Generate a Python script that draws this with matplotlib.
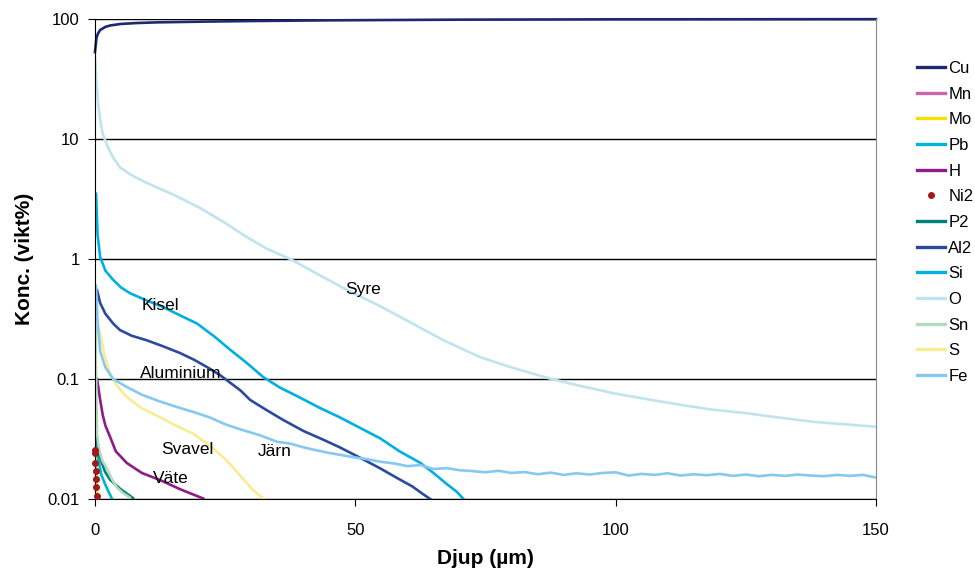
import matplotlib.pyplot as plt
from matplotlib.ticker import FixedLocator, FixedFormatter, NullLocator

plt.rcParams['font.family'] = ['Liberation Sans', 'DejaVu Sans']

# depth profiles, depth in um, concentration in wt%
cu_x = [0.0, 0.3, 0.6, 1.0, 2.0, 3.0, 5.0, 8.0, 12.0, 20.0, 30.0, 45.0, 70.0, 100.0, 150.0]
cu_y = [53.0, 70.0, 76.0, 81.0, 86.0, 88.5, 91.0, 92.6, 93.8, 95.0, 96.2, 97.5, 98.8, 99.4, 99.7]

mn_x = [0.1, 0.2, 0.3]
mn_y = [0.013, 0.011, 0.010]

mo_x = [0.2, 0.25, 0.3, 0.35]
mo_y = [0.022, 0.016, 0.012, 0.010]

pb_x = [0.2, 0.6, 1.2, 1.9, 2.6, 3.3]
pb_y = [0.040, 0.022, 0.016, 0.0135, 0.0115, 0.010]

h_x = [0.4, 0.7, 1.0, 1.5, 2.0, 2.9, 4.0, 6.1, 9.0, 12.5, 16.5, 20.8]
h_y = [0.10, 0.082, 0.067, 0.050, 0.041, 0.033, 0.025, 0.020, 0.0165, 0.0144, 0.012, 0.0101]

ni_x = [0.0, 0.05, 0.1, 0.15, 0.2, 0.25, 0.3]
ni_y = [0.0256, 0.0240, 0.0201, 0.0170, 0.0146, 0.0126, 0.0107]

p2_x = [0.1, 0.4, 1.0, 1.9, 2.9, 4.8, 6.0, 7.3]
p2_y = [0.046, 0.030, 0.022, 0.017, 0.0145, 0.0122, 0.0112, 0.0102]

al_x = [0.4, 1.0, 2.0, 3.5, 4.8, 7.0, 10.0, 13.0, 16.3, 19.0, 21.5, 24.0, 26.0, 28.0, 29.8,
        33.0, 36.0, 40.0, 44.0, 47.0, 51.0, 54.8, 58.0, 61.0, 63.0, 64.4]
al_y = [0.55, 0.43, 0.35, 0.29, 0.256, 0.23, 0.21, 0.188, 0.165, 0.145, 0.126, 0.108, 0.093,
        0.080, 0.067, 0.055, 0.046, 0.037, 0.031, 0.027, 0.022, 0.018, 0.015, 0.0127, 0.011, 0.010]

si_x = [0.2, 0.5, 1.0, 2.0, 3.5, 5.0, 6.7, 10.0, 13.0, 16.0, 19.6, 23.0, 26.0, 29.0, 32.3,
        35.5, 39.4, 43.0, 47.0, 51.0, 54.8, 58.5, 62.5, 65.0, 67.7, 69.5, 70.8]
si_y = [3.5, 1.6, 1.04, 0.80, 0.67, 0.58, 0.52, 0.45, 0.40, 0.345, 0.29, 0.225, 0.175, 0.138,
        0.104, 0.085, 0.070, 0.058, 0.048, 0.039, 0.032, 0.025, 0.020, 0.0165, 0.0132, 0.0115, 0.010]

o_x = [0.0, 0.3, 0.6, 1.0, 1.5, 2.5, 3.5, 4.8, 7.0, 10.0, 15.0, 20.2, 25.0, 29.2, 33.0, 37.5,
       43.0, 48.5, 55.0, 61.0, 67.0, 74.0, 80.0, 87.0, 93.0, 99.7, 106.0, 112.5, 118.0, 125.0,
       131.0, 138.0, 144.0, 150.0]
o_y = [50.0, 30.0, 20.0, 14.4, 11.0, 8.5, 7.0, 5.8, 5.0, 4.3, 3.45, 2.66, 2.0, 1.52, 1.22, 1.0,
       0.74, 0.55, 0.40, 0.29, 0.21, 0.152, 0.125, 0.102, 0.088, 0.076, 0.068, 0.061, 0.056,
       0.052, 0.048, 0.044, 0.042, 0.040]

sn_x = [0.1, 0.2, 0.4, 0.8, 1.4, 2.3, 3.2, 4.2, 5.4, 6.7]
sn_y = [0.40, 0.12, 0.035, 0.026, 0.021, 0.018, 0.0148, 0.0125, 0.0112, 0.0103]

s_x = [0.3, 0.6, 1.0, 1.8, 2.9, 4.2, 6.1, 9.0, 12.5, 15.5, 18.9, 22.0, 25.3, 28.0, 30.4, 32.5]
s_y = [0.30, 0.27, 0.24, 0.16, 0.112, 0.088, 0.071, 0.057, 0.048, 0.041, 0.035, 0.028, 0.021,
       0.0155, 0.0118, 0.010]

fe_x = [0.2, 0.5, 1.0, 2.0, 3.5, 6.1, 9.0, 12.5, 16.0, 19.0, 22.0, 25.0, 28.0, 31.7,
        35.0, 37.5, 40.0, 42.5, 45.0, 47.5, 50.0, 52.5, 55.0, 57.5, 60.0, 62.5, 65.0, 67.5,
        70.0, 72.5, 75.0, 77.5, 80.0, 82.5, 85.0, 87.5, 90.0, 92.5, 95.0, 97.5, 100.0, 102.5,
        105.0, 107.5, 110.0, 112.5, 115.0, 117.5, 120.0, 122.5, 125.0, 127.5, 130.0, 132.5,
        135.0, 137.5, 140.0, 142.5, 145.0, 147.5, 150.0]
fe_y = [0.60, 0.30, 0.17, 0.125, 0.10, 0.086, 0.074, 0.065, 0.058, 0.053, 0.048, 0.042, 0.038,
        0.034, 0.030, 0.029, 0.027, 0.0255, 0.0242, 0.0232, 0.0222, 0.0214, 0.0204, 0.0198,
        0.0188, 0.0192, 0.0178, 0.0181, 0.0174, 0.0171, 0.0167, 0.0172, 0.0165, 0.0168, 0.0161,
        0.0166, 0.0159, 0.0164, 0.0160, 0.0165, 0.0167, 0.0157, 0.0162, 0.0159, 0.0164, 0.0157,
        0.0161, 0.0158, 0.0162, 0.0156, 0.0160, 0.0155, 0.0159, 0.0156, 0.0160, 0.0157, 0.0155,
        0.0159, 0.0156, 0.0159, 0.0151]

series = [
    ('Cu', cu_x, cu_y, '#1f2a6b'),
    ('Mn', mn_x, mn_y, '#cc66b0'),
    ('Mo', mo_x, mo_y, '#f2e000'),
    ('Pb', pb_x, pb_y, '#00b4d8'),
    ('H', h_x, h_y, '#8e1b8a'),
    ('Ni2', ni_x, ni_y, '#a01a1a'),
    ('P2', p2_x, p2_y, '#00807a'),
    ('Al2', al_x, al_y, '#2b4a9e'),
    ('Si', si_x, si_y, '#00b0e0'),
    ('O', o_x, o_y, '#bfe4ee'),
    ('Sn', sn_x, sn_y, '#b4dcbc'),
    ('S', s_x, s_y, '#f8ec94'),
    ('Fe', fe_x, fe_y, '#86c8f0'),
]

x_ticks = [0, 50, 100, 150]
y_ticks = [0.01, 0.1, 1, 10, 100]
y_tick_labels = ['0.01', '0.1', '1', '10', '100']

fig = plt.figure(figsize=(9.75, 5.71), dpi=100)
ax = fig.add_axes([0.0974, 0.126, 0.8010, 0.8407])

for name, xs, ys, col in series:
    if name == 'Ni2':
        ax.plot(xs, ys, linestyle='none', marker='o', markersize=4, color=col, label=name,
                clip_on=False, zorder=3)
    else:
        ax.plot(xs, ys, color=col, lw=1.9, label=name, clip_on=(name != 'Cu'))

ax.set_yscale('log')
ax.set_xlim(0, 150)
ax.set_ylim(0.01, 100)

ax.yaxis.set_major_locator(FixedLocator(y_ticks))
ax.yaxis.set_major_formatter(FixedFormatter(y_tick_labels))
ax.yaxis.set_minor_locator(NullLocator())
ax.set_xticks(x_ticks)
ax.grid(axis='y', color='black', lw=1.0)
ax.set_axisbelow(True)

ax.spines['top'].set_visible(False)
ax.spines['right'].set_color('#888888')
ax.spines['left'].set_color('black')
ax.spines['bottom'].set_color('black')
ax.tick_params(axis='both', direction='out', length=5, labelsize=12, pad=6)
ax.tick_params(axis='x', pad=12)

ax.set_xlabel('Djup (µm)', fontsize=15, fontweight='bold', labelpad=8)
ax.set_ylabel('Konc. (vikt%)', fontsize=15, fontweight='bold')
ax.yaxis.set_label_coords(-0.078, 0.5)

# element names next to their curves
notes = [('Syre', 51.5, 0.56), ('Kisel', 12.5, 0.41), ('Aluminium', 16.5, 0.112),
         ('Svavel', 17.8, 0.026), ('Järn', 34.5, 0.025), ('Väte', 14.5, 0.0148)]
for txt, nx, ny in notes:
    ax.text(nx, ny, txt, fontsize=12.5, ha='center', va='center')

leg = fig.legend(loc='upper left', bbox_to_anchor=(0.934, 0.905), frameon=False, fontsize=12,
                 handlelength=1.65, handletextpad=0.2, labelspacing=0.64, borderaxespad=0)
for h in leg.get_lines():
    h.set_linewidth(2.4)

fig.savefig('out.png', dpi=100)
